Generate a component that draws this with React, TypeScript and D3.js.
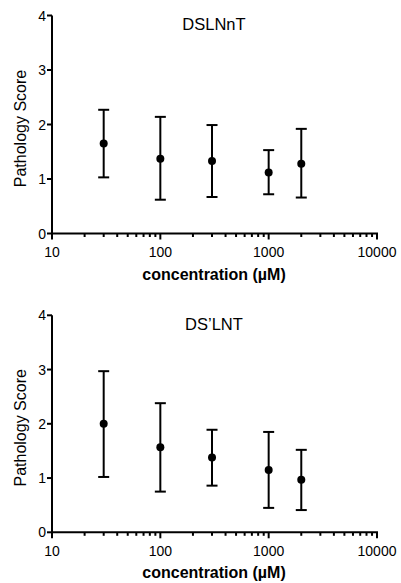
import React from "react";
import * as d3 from "d3";

const concentrations = [30, 100, 300, 1000, 2000];
const dslnntMean = [1.65, 1.37, 1.33, 1.12, 1.28];
const dslnntUpper = [2.27, 2.14, 1.99, 1.53, 1.92];
const dslnntLower = [1.03, 0.62, 0.67, 0.72, 0.66];
const dslntMean = [2.0, 1.57, 1.38, 1.15, 0.97];
const dslntUpper = [2.97, 2.38, 1.89, 1.85, 1.52];
const dslntLower = [1.02, 0.75, 0.86, 0.45, 0.41];
const yTicks = [0, 1, 2, 3, 4];
const xMajorTicks = [10, 100, 1000, 10000];
const panelTitles = ["DSLNnT", "DS\u2019LNT"];
const xTitle = "concentration (\u00b5M)";
const yTitle = "Pathology Score";

const FONT = "Arial, 'Liberation Sans', Helvetica, sans-serif";

function minorTicks(): number[] {
  const out: number[] = [];
  for (let e = 1; e < 4; e++) {
    for (let m = 2; m <= 9; m++) out.push(m * Math.pow(10, e));
  }
  return out;
}

function Panel({ top, bottom, title, mean, upper, lower }: any) {
  const x = d3.scaleLog().domain([10, 10000]).range([52, 377]);
  const y = d3.scaleLinear().domain([0, 4]).range([bottom, top]);
  const sw = 2;
  const cap = 5.5;
  return (
    <g>
      {/* y axis */}
      <line x1={x(10)} x2={x(10)} y1={y(0) + 1} y2={y(4)} stroke="#000" strokeWidth={sw} />
      {yTicks.map((t) => (
        <g key={"y" + t}>
          <line x1={x(10) - 5} x2={x(10)} y1={y(t)} y2={y(t)} stroke="#000" strokeWidth={sw} />
          <text x={x(10) - 6} y={y(t)} dy="0.36em" textAnchor="end" fontSize={14} fontFamily={FONT}>
            {t}
          </text>
        </g>
      ))}
      {/* x axis */}
      <line x1={x(10) - 1} x2={x(10000) + 1} y1={y(0)} y2={y(0)} stroke="#000" strokeWidth={sw} />
      {minorTicks().map((t) => (
        <line key={"m" + t} x1={x(t)} x2={x(t)} y1={y(0)} y2={y(0) + 3.5} stroke="#000" strokeWidth={sw} />
      ))}
      {xMajorTicks.map((t) => (
        <g key={"x" + t}>
          <line x1={x(t)} x2={x(t)} y1={y(0)} y2={y(0) + 6} stroke="#000" strokeWidth={sw} />
          <text x={x(t)} y={y(0) + 23.5} textAnchor="middle" fontSize={14} fontFamily={FONT}>
            {t}
          </text>
        </g>
      ))}
      <text x={214} y={y(0) + 46} textAnchor="middle" fontSize={16} fontWeight="bold" fontFamily={FONT}>
        {xTitle}
      </text>
      <text
        transform={`translate(${26},${(y(0) + y(4)) / 2 + 4}) rotate(-90)`}
        textAnchor="middle"
        fontSize={16}
        fontFamily={FONT}
      >
        {yTitle}
      </text>
      <text x={214} y={y(4) + 14.5} textAnchor="middle" fontSize={16.5} fontFamily={FONT}>
        {title}
      </text>
      {/* error bars */}
      {concentrations.map((c, i) => (
        <g key={"e" + c}>
          <line x1={x(c)} x2={x(c)} y1={y(upper[i])} y2={y(lower[i])} stroke="#000" strokeWidth={sw} />
          <line x1={x(c) - cap} x2={x(c) + cap} y1={y(upper[i])} y2={y(upper[i])} stroke="#000" strokeWidth={sw} />
          <line x1={x(c) - cap} x2={x(c) + cap} y1={y(lower[i])} y2={y(lower[i])} stroke="#000" strokeWidth={sw} />
          <circle cx={x(c)} cy={y(mean[i])} r={4} fill="#000" />
        </g>
      ))}
    </g>
  );
}

export default function App() {
  return (
    <svg width={401} height={583} style={{ position: "absolute", left: 0, top: 0, background: "#fff" }}>
      <rect width={401} height={583} fill="#fff" />
      <Panel top={15.5} bottom={233.5} title={panelTitles[0]} mean={dslnntMean} upper={dslnntUpper} lower={dslnntLower} />
      <Panel top={315.3} bottom={532.3} title={panelTitles[1]} mean={dslntMean} upper={dslntUpper} lower={dslntLower} />
    </svg>
  );
}
